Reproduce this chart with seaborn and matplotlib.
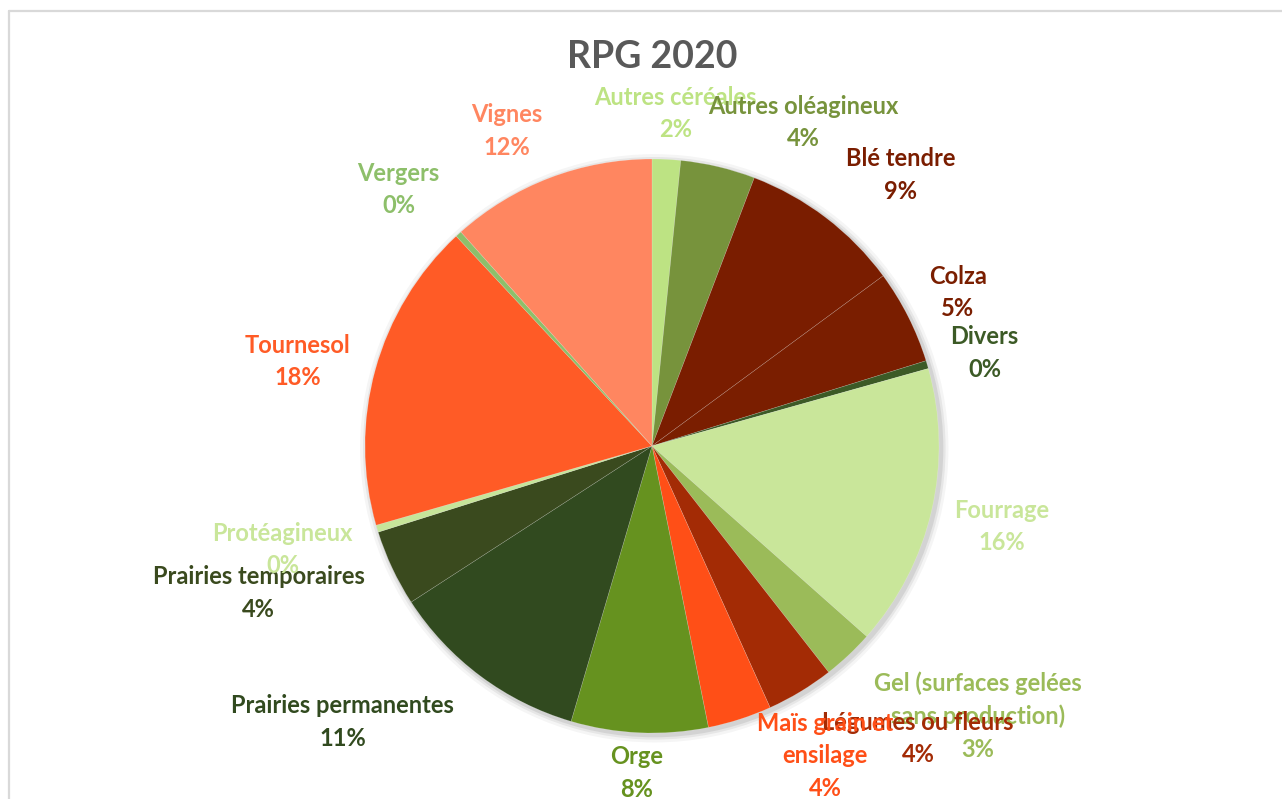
import numpy as np
import matplotlib
matplotlib.use("Agg")
import matplotlib.pyplot as plt
import seaborn as sns

# Données RPG 2020 (part de la surface, en %)
categories = [
    "Autres céréales", "Autres oléagineux", "Blé tendre", "Colza", "Divers",
    "Fourrage", "Gel (surfaces gelées\nsans production)", "Légumes ou fleurs",
    "Maïs grain et\nensilage", "Orge", "Prairies permanentes",
    "Prairies temporaires", "Protéagineux", "Tournesol", "Vergers", "Vignes",
]
parts = [1.6, 4.2, 9.1, 5.3, 0.45, 15.9, 2.9, 3.8, 3.6, 7.7, 11.3, 4.3, 0.4, 17.5, 0.35, 11.6]
couleurs = [
    "#BDE383", "#77933C", "#7A1D00", "#7A1E00", "#3C5A26",
    "#C9E69A", "#9BBB59", "#A32B05", "#FF4F17", "#66921F",
    "#314A1F", "#3A4A1E", "#C6E59A", "#FF5B26", "#8DBF6A", "#FF8660",
]
# couleur du texte des étiquettes (comme Excel)
couleurs_txt = list(couleurs)
couleurs_txt[12] = "#C9E69A"

# décalages des étiquettes (unités de rayon), pour reprendre la mise en page Excel
decalages = {
    0: (0.02, -0.09), 1: (0.24, -0.09), 2: (0.11, -0.05), 3: (-0.05, -0.03),
    4: (-0.04, -0.03), 6: (0.28, -0.03), 7: (0.28, 0.05), 8: (0.22, 0.11),
    9: (0.0, 0.11), 10: (-0.33, 0.04), 11: (-0.24, 0.02), 12: (-0.09, 0.0),
    13: (-0.03, -0.04), 14: (-0.04, -0.03), 15: (-0.06, -0.07),
}

sns.set_theme(style="white")
plt.rcParams["font.family"] = ["Lato", "DejaVu Sans"]

W, H = 1282, 799
fig = plt.figure(figsize=(W / 100, H / 100), dpi=100)
ax = fig.add_axes([0, 0, 1, 1])

# centre du camembert et rayon en pixels
cx, cy, R = 652, 446, 287

# ombre légère
for k, a in zip([1.025, 1.015, 1.007], [0.04, 0.06, 0.08]):
    ax.add_patch(plt.Circle((0.008, -0.008), k, color="black", alpha=a, lw=0, zorder=0))

wedges, _ = ax.pie(parts, colors=couleurs, startangle=90, counterclock=False,
                   radius=1, wedgeprops=dict(linewidth=0.4, edgecolor=(1, 1, 1, 0.25)),
                   normalize=True)
for w in wedges:
    w.set_zorder(2)

ax.set_aspect("auto")
ax.set_xlim(-cx / R, (W - cx) / R)
ax.set_ylim(-(H - cy) / R, cy / R)
ax.axis("off")

for i, w in enumerate(wedges):
    ang = np.deg2rad((w.theta1 + w.theta2) / 2)
    x, y = 1.25 * np.cos(ang), 1.25 * np.sin(ang)
    dx, dy = decalages.get(i, (0, 0))
    ax.text(x + dx, y + dy, f"{categories[i]}\n{parts[i]:.0f}%",
            ha="center", va="center", multialignment="center",
            fontsize=17, fontweight="bold", color=couleurs_txt[i],
            linespacing=1.5, zorder=5)

fig.text(cx / W, 1 - 57 / H, "RPG 2020", ha="center", va="center",
         fontsize=27, fontweight="bold", color="#595959")

# cadre gris du graphique
fig.add_artist(plt.Line2D([8.5 / W, 8.5 / W], [0, 1 - 10.5 / H], color="#D9D9D9", lw=1.6))
fig.add_artist(plt.Line2D([8.5 / W, 1], [1 - 10.5 / H, 1 - 10.5 / H], color="#D9D9D9", lw=1.6))

fig.savefig("out.png", dpi=100)
